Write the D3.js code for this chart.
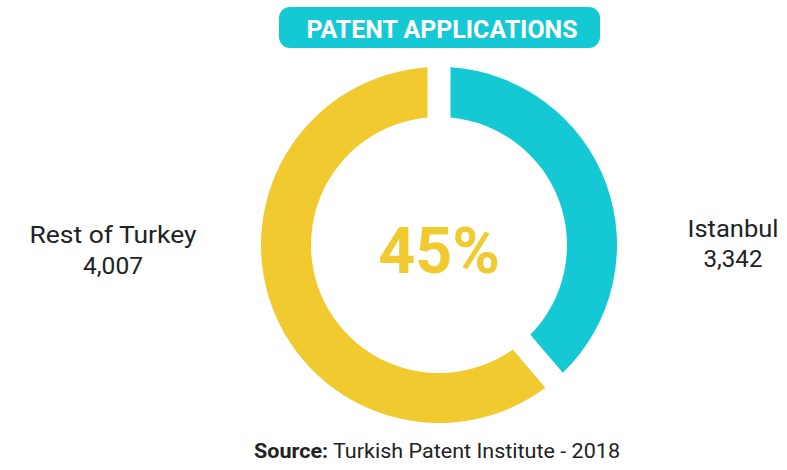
<!DOCTYPE html>
<html>
<head>
<meta charset="utf-8">
<script src="https://cdn.jsdelivr.net/npm/d3@7"></script>
<style>
  html, body { margin: 0; padding: 0; background: #ffffff; }
  svg { display: block; }
</style>
</head>
<body>
<svg id="chart" width="787" height="470"></svg>
<script>
// ---- data ----
const categories = ["Istanbul", "Rest of Turkey"];
const values = [3342, 4007];
const valueLabels = ["3,342", "4,007"];
// share of the ring drawn for each category (%)
const arcShares = [38.3, 61.7];
const centerLabel = "45%";
const title = "PATENT APPLICATIONS";
const sourceBold = "Source:";
const sourceText = " Turkish Patent Institute - 2018";

const colors = d3.scaleOrdinal().domain(categories).range(["#15C9D4", "#F1CA2F"]);

const svg = d3.select("#chart");
const cx = 439, cy = 245;
const rOuter = 178, rInner = 128;
const halfGap = 11.5;

const font = "Roboto, 'DejaVu Sans', sans-serif";

// ---- title pill ----
svg.append("rect")
  .attr("x", 279).attr("y", 7)
  .attr("width", 321).attr("height", 41)
  .attr("rx", 11).attr("ry", 11)
  .attr("fill", "#15C9D4");
svg.append("text")
  .attr("x", 442).attr("y", 37.5)
  .attr("text-anchor", "middle")
  .attr("font-family", font)
  .attr("font-weight", "bold")
  .attr("font-size", 26.5)
  .attr("fill", "#ffffff")
  .attr("textLength", 271)
  .attr("lengthAdjust", "spacingAndGlyphs")
  .text(title);

// ---- donut ----
const pie = d3.pie()
  .sort(null)
  .value(d => d.share)
  .padAngle(2 * Math.asin(halfGap / rOuter));

const arc = d3.arc()
  .innerRadius(rInner)
  .outerRadius(rOuter)
  .padRadius(rOuter);

const data = categories.map((c, i) => ({ cat: c, value: values[i], share: arcShares[i], label: valueLabels[i] }));

const g = svg.append("g").attr("transform", `translate(${cx},${cy})`);
g.selectAll("path")
  .data(pie(data))
  .join("path")
  .attr("d", arc)
  .attr("fill", d => colors(d.data.cat));

// center label
g.append("text")
  .attr("x", 0).attr("y", 28)
  .attr("text-anchor", "middle")
  .attr("font-family", font)
  .attr("font-weight", "bold")
  .attr("font-size", 64.5)
  .attr("fill", "#F1CA2F")
  .text(centerLabel);

// ---- side labels ----
const labelPos = {
  "Istanbul": { x: 733, y1: 236.7, y2: 266.7, w1: 91, w2: 59 },
  "Rest of Turkey": { x: 113, y1: 243.3, y2: 274, w1: 167, w2: 60 }
};
data.forEach(d => {
  const p = labelPos[d.cat];
  svg.append("text")
    .attr("x", p.x).attr("y", p.y1)
    .attr("text-anchor", "middle")
    .attr("font-family", font)
    .attr("font-size", 23.5)
    .attr("fill", "#222222")
    .attr("textLength", p.w1)
    .attr("lengthAdjust", "spacingAndGlyphs")
    .text(d.cat);
  svg.append("text")
    .attr("x", p.x).attr("y", p.y2)
    .attr("text-anchor", "middle")
    .attr("font-family", font)
    .attr("font-size", 23.5)
    .attr("fill", "#222222")
    .attr("textLength", p.w2)
    .attr("lengthAdjust", "spacingAndGlyphs")
    .text(d.label);
});

// ---- source ----
const src = svg.append("text")
  .attr("x", 437).attr("y", 458.3)
  .attr("text-anchor", "middle")
  .attr("font-family", font)
  .attr("font-size", 20)
  .attr("fill", "#222222")
  .attr("textLength", 366)
  .attr("lengthAdjust", "spacingAndGlyphs");
src.append("tspan").attr("font-weight", "bold").text(sourceBold);
src.append("tspan").text(sourceText);
</script>
</body>
</html>
